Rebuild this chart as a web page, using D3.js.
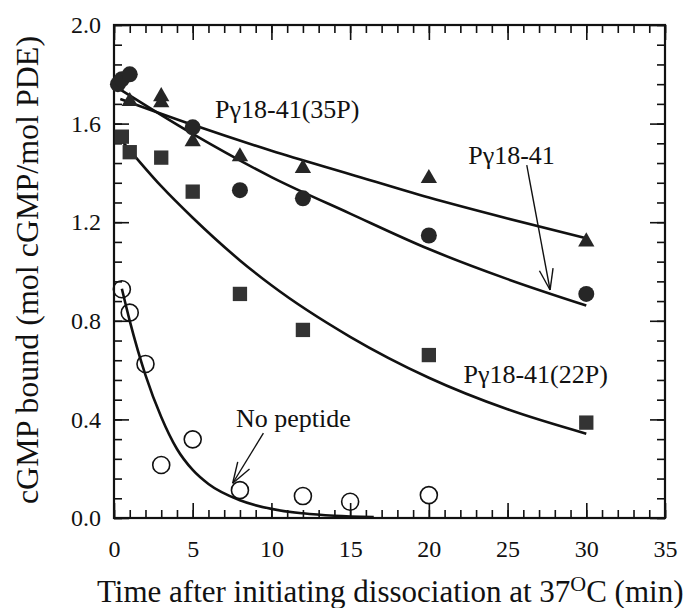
<!doctype html>
<html>
  <head>
    <meta charset="utf-8">
    <title>cGMP dissociation</title>
    <style>
    body {
      margin: 0;
      background-color: #ffffff;
    }
    </style>
    <script src="https://cdnjs.cloudflare.com/ajax/libs/d3/7.8.5/d3.min.js"></script>
  </head>
  <body>
    <div id="chart"></div>

    <script>

      // measured points, time in min, cGMP bound in mol/mol PDE
      const triT = [1, 3, 3, 5, 8, 12, 20, 30];
      const triV = [1.69, 1.71, 1.685, 1.527, 1.466, 1.419, 1.378, 1.121];
      const dotT = [0.25, 0.5, 1, 5, 8, 12, 20, 30];
      const dotV = [1.76, 1.78, 1.80, 1.585, 1.33, 1.297, 1.146, 0.909];
      const sqT = [0.5, 1, 3, 5, 8, 12, 20, 30];
      const sqV = [1.547, 1.484, 1.462, 1.324, 0.909, 0.763, 0.661, 0.387];
      const openT = [0.5, 1, 2, 3, 5, 8, 12, 15, 20];
      const openV = [0.928, 0.833, 0.625, 0.215, 0.319, 0.113, 0.089, 0.066, 0.093];

      // fitted curves
      const fit35T = [0.4, 5, 10, 15, 20, 25, 30];
      const fit35V = [1.70, 1.595, 1.49, 1.395, 1.30, 1.215, 1.135];
      const fitPT = [0.1, 5, 10, 15, 20, 25, 30];
      const fitPV = [1.75, 1.558, 1.383, 1.235, 1.091, 0.969, 0.862];
      const fit22T = [0.5, 3, 5, 8, 10, 15, 20, 25, 30];
      const fit22V = [1.53, 1.346, 1.218, 1.045, 0.944, 0.735, 0.569, 0.441, 0.342];
      const fitNoT = [0.5, 1, 2, 3, 4, 5, 6, 8, 10, 12, 14, 16.5];
      const fitNoV = [0.93, 0.80, 0.58, 0.41, 0.28, 0.195, 0.138, 0.072, 0.037, 0.019, 0.009, 0.004];

      // tick labels
      const xTicks = [0, 5, 10, 15, 20, 25, 30, 35];
      const yTicks = [0.0, 0.4, 0.8, 1.2, 1.6, 2.0];

      const zip = (ts, vs) => ts.map((t, i) => [t, vs[i]]);

      const serif = "'Liberation Serif', 'Times New Roman', serif";
      const width = 693, height = 608;
      const mLeft = 114, mRight = 665, mTop = 25, mBottom = 518;

      const x = d3.scaleLinear().domain([0, 35]).range([mLeft, mRight]);
      const y = d3.scaleLinear().domain([0, 2]).range([mBottom, mTop]);

      const svg = d3.select('#chart')
        .append('svg')
        .attr('width', width)
        .attr('height', height)
        .style('font-family', serif);

      // minor ticks every 1 min and every 0.08
      const xMinor = d3.range(0, 36);
      const yMinor = d3.range(26).map(i => i * 0.08);

      function tickAxis(axis, pos, vals, size, labels) {
        const g = svg.append('g')
          .attr('transform', pos)
          .call(axis.tickValues(vals).tickSize(-size).tickSizeOuter(0));
        g.select('.domain').remove();
        g.selectAll('line').attr('stroke', '#111').attr('stroke-width', 1.6);
        if (!labels) g.selectAll('text').remove();
        g.attr('font-family', serif).attr('font-size', 24);
        g.selectAll('text').attr('fill', '#111');
        return g;
      }

      tickAxis(d3.axisBottom(x), `translate(0,${mBottom})`, xMinor, 8, false);
      tickAxis(d3.axisTop(x), `translate(0,${mTop})`, xMinor, 8, false);
      tickAxis(d3.axisLeft(y), `translate(${mLeft},0)`, yMinor, 8, false);
      tickAxis(d3.axisRight(y), `translate(${mRight},0)`, yMinor, 8, false);

      tickAxis(d3.axisBottom(x).tickFormat(d3.format('d')).tickPadding(22),
        `translate(0,${mBottom})`, xTicks, 15, true);
      tickAxis(d3.axisTop(x), `translate(0,${mTop})`, xTicks, 15, false);
      tickAxis(d3.axisLeft(y).tickFormat(d3.format('.1f')).tickPadding(13),
        `translate(${mLeft},0)`, yTicks, 15, true);
      tickAxis(d3.axisRight(y), `translate(${mRight},0)`, yTicks, 15, false);

      // frame
      svg.append('rect')
        .attr('x', mLeft).attr('y', mTop)
        .attr('width', mRight - mLeft).attr('height', mBottom - mTop)
        .attr('fill', 'none').attr('stroke', '#111').attr('stroke-width', 2.2);

      // fitted lines
      const line = d3.line()
        .x(d => x(d[0]))
        .y(d => y(d[1]))
        .curve(d3.curveMonotoneX);

      svg.selectAll('path.fit')
        .data([zip(fit35T, fit35V), zip(fitPT, fitPV), zip(fit22T, fit22V), zip(fitNoT, fitNoV)])
        .join('path')
        .attr('class', 'fit')
        .attr('d', line)
        .attr('fill', 'none')
        .attr('stroke', '#111')
        .attr('stroke-width', 2.6);

      const ink = '#262626';

      svg.selectAll('path.tri')
        .data(zip(triT, triV))
        .join('path')
        .attr('class', 'tri')
        .attr('transform', d => `translate(${x(d[0])},${y(d[1])})`)
        .attr('d', d3.symbol(d3.symbolTriangle, 115))
        .attr('fill', ink);

      svg.selectAll('circle.dot')
        .data(zip(dotT, dotV))
        .join('circle')
        .attr('class', 'dot')
        .attr('cx', d => x(d[0]))
        .attr('cy', d => y(d[1]))
        .attr('r', 8)
        .attr('fill', ink);

      svg.selectAll('path.sq')
        .data(zip(sqT, sqV))
        .join('path')
        .attr('class', 'sq')
        .attr('transform', d => `translate(${x(d[0])},${y(d[1])})`)
        .attr('d', d3.symbol(d3.symbolSquare, 205))
        .attr('fill', '#333');

      svg.selectAll('circle.open')
        .data(zip(openT, openV))
        .join('circle')
        .attr('class', 'open')
        .attr('cx', d => x(d[0]))
        .attr('cy', d => y(d[1]))
        .attr('r', 8.5)
        .attr('fill', 'none')
        .attr('stroke', '#111')
        .attr('stroke-width', 1.6);

      // series labels
      const labels = [
        {t: 6.42, v: 1.624, text: 'Pγ18-41(35P)'},
        {t: 22.5, v: 1.435, text: 'Pγ18-41'},
        {t: 22.2, v: 0.549, text: 'Pγ18-41(22P)'},
        {t: 7.75, v: 0.369, text: 'No peptide'}
      ];
      svg.selectAll('text.lab')
        .data(labels)
        .join('text')
        .attr('class', 'lab')
        .attr('x', d => x(d.t))
        .attr('y', d => y(d.v))
        .attr('font-size', 26)
        .attr('fill', '#111')
        .text(d => d.text);

      // arrows, open V heads
      const arrows = [
        {from: [26.22, 1.432], to: [27.7, 0.925]},
        {from: [9.49, 0.344], to: [7.54, 0.141]}
      ];
      arrows.forEach(a => {
        const x1 = x(a.from[0]), y1 = y(a.from[1]);
        const x2 = x(a.to[0]), y2 = y(a.to[1]);
        const ang = Math.atan2(y2 - y1, x2 - x1);
        const len = 22, spread = 0.32;
        const g = svg.append('g')
          .attr('stroke', '#111').attr('stroke-width', 1.4).attr('fill', 'none');
        g.append('line').attr('x1', x1).attr('y1', y1).attr('x2', x2).attr('y2', y2);
        [-spread, spread].forEach(s => {
          g.append('line')
            .attr('x1', x2).attr('y1', y2)
            .attr('x2', x2 - len * Math.cos(ang + s))
            .attr('y2', y2 - len * Math.sin(ang + s));
        });
      });

      // axis titles
      const xt = svg.append('text')
        .attr('x', 97)
        .attr('y', 602)
        .attr('font-size', 31)
        .attr('fill', '#111');
      xt.append('tspan').text('Time after initiating dissociation at 37');
      xt.append('tspan').attr('dy', -11).attr('font-size', 22).text('O');
      xt.append('tspan').attr('dy', 11).text('C (min)');

      svg.append('text')
        .attr('transform', `translate(38,270) rotate(-90)`)
        .attr('text-anchor', 'middle')
        .attr('font-size', 32)
        .attr('fill', '#111')
        .text('cGMP bound (mol cGMP/mol PDE)');

    </script>
  </body>
</html>
